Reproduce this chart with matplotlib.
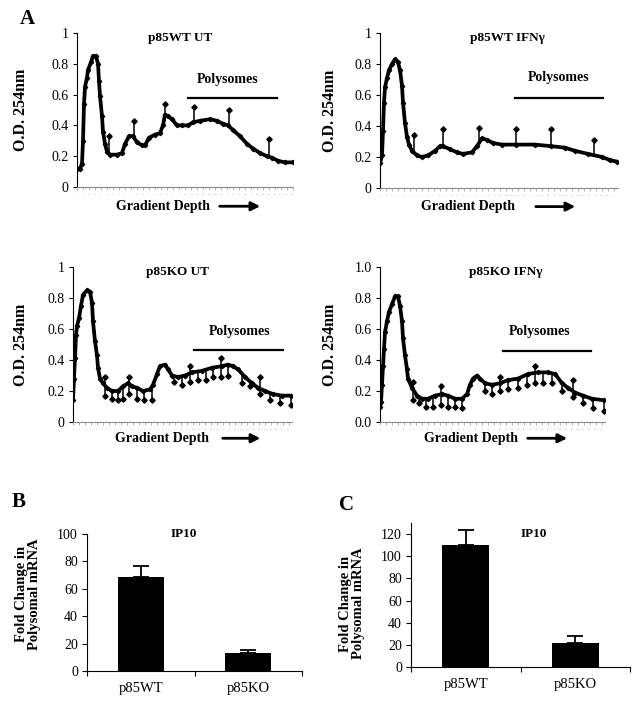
import numpy as np
import matplotlib.pyplot as plt

plt.rcParams["font.family"] = ["Liberation Serif", "DejaVu Serif"]

# ---- panel A: polysome profiles (x = reading along gradient, y = O.D. 254nm)
wt_ut_x = [0, 3, 5, 6, 7, 8, 10, 11, 14, 16, 19, 21, 22, 23, 25, 26, 28, 30, 33, 40,
           45, 48, 52, 56, 60, 65, 68, 72, 78, 83, 86, 88, 91, 95, 100, 105, 111, 116,
           123, 133, 140, 146, 151, 156, 163, 170, 176, 183, 190, 195, 201, 208, 216]
wt_ut_od = [0.12, 0.12, 0.15, 0.30, 0.54, 0.65, 0.71, 0.76, 0.81, 0.85, 0.85, 0.80, 0.69,
            0.59, 0.46, 0.36, 0.28, 0.23, 0.21, 0.21, 0.22, 0.28, 0.33, 0.33, 0.29, 0.27,
            0.27, 0.32, 0.34, 0.35, 0.40, 0.47, 0.46, 0.44, 0.40, 0.40, 0.40, 0.42, 0.43,
            0.44, 0.43, 0.41, 0.40, 0.37, 0.33, 0.28, 0.25, 0.22, 0.20, 0.19, 0.17, 0.16,
            0.16]
wt_ut_bar_x = [32, 57, 88, 117, 152, 192]
wt_ut_bar_mid = [0.23, 0.33, 0.47, 0.42, 0.40, 0.20]
wt_ut_bar_lo = [0.23, 0.33, 0.47, 0.42, 0.40, 0.20]
wt_ut_bar_hi = [0.33, 0.43, 0.54, 0.52, 0.50, 0.31]

wt_ifn_x = [0, 2, 3, 4, 5, 7, 9, 12, 15, 18, 20, 22, 23, 25, 27, 29, 32, 37, 42, 48, 55,
            60, 63, 70, 77, 83, 92, 97, 102, 107, 113, 122, 136, 155, 171, 185, 195, 208,
            222, 230, 237]
wt_ifn_od = [0.16, 0.21, 0.37, 0.55, 0.65, 0.71, 0.76, 0.80, 0.83, 0.81, 0.76, 0.66,
             0.55, 0.42, 0.33, 0.28, 0.24, 0.21, 0.20, 0.21, 0.24, 0.27, 0.27, 0.25, 0.23,
             0.22, 0.23, 0.27, 0.32, 0.31, 0.29, 0.28, 0.28, 0.28, 0.27, 0.26, 0.24, 0.22,
             0.20, 0.18, 0.17]
wt_ifn_bar_x = [34, 63, 99, 136, 171, 214]
wt_ifn_bar_mid = [0.24, 0.27, 0.29, 0.28, 0.27, 0.21]
wt_ifn_bar_lo = [0.24, 0.27, 0.29, 0.28, 0.27, 0.21]
wt_ifn_bar_hi = [0.34, 0.38, 0.39, 0.38, 0.38, 0.31]

ko_ut_x = [0, 1, 2, 3, 4, 6, 8, 10, 14, 17, 19, 20, 22, 24, 25, 27, 30, 34, 39, 45, 50,
           55, 59, 64, 70, 77, 80, 84, 87, 92, 95, 99, 105, 112, 119, 129, 139, 149, 155,
           160, 165, 172, 179, 185, 192, 200, 209, 218]
ko_ut_od = [0.14, 0.28, 0.41, 0.56, 0.62, 0.67, 0.75, 0.82, 0.85, 0.84, 0.77, 0.65, 0.52,
            0.43, 0.35, 0.28, 0.25, 0.22, 0.20, 0.20, 0.23, 0.25, 0.23, 0.22, 0.20, 0.21,
            0.24, 0.31, 0.36, 0.37, 0.34, 0.30, 0.29, 0.30, 0.32, 0.33, 0.35, 0.36, 0.37,
            0.36, 0.34, 0.29, 0.25, 0.22, 0.20, 0.18, 0.17, 0.17]
ko_ut_bar_x = [32, 39, 45, 50, 56, 64, 71, 79, 101, 109, 117, 125, 133, 140, 148, 155,
               169, 177, 187, 197, 207, 218]
ko_ut_bar_mid = [0.24, 0.21, 0.20, 0.22, 0.25, 0.22, 0.20, 0.21, 0.30, 0.29, 0.31, 0.32,
                 0.33, 0.34, 0.36, 0.37, 0.33, 0.27, 0.22, 0.19, 0.17, 0.17]
ko_ut_bar_lo = [0.17, 0.15, 0.14, 0.15, 0.18, 0.15, 0.14, 0.14, 0.26, 0.24, 0.26, 0.27,
                0.27, 0.29, 0.29, 0.30, 0.25, 0.23, 0.18, 0.14, 0.12, 0.11]
ko_ut_bar_hi = [0.29, 0.21, 0.20, 0.22, 0.29, 0.22, 0.20, 0.21, 0.30, 0.29, 0.36, 0.32,
                0.33, 0.34, 0.41, 0.37, 0.33, 0.27, 0.29, 0.19, 0.17, 0.17]

ko_ifn_x = [0, 1, 2, 3, 4, 5, 7, 9, 12, 15, 18, 20, 22, 23, 25, 27, 28, 32, 37, 42, 48,
            55, 62, 68, 75, 82, 87, 90, 93, 97, 100, 105, 112, 120, 128, 138, 148, 158,
            168, 175, 182, 188, 195, 203, 212, 224]
ko_ifn_od = [0.10, 0.13, 0.24, 0.36, 0.47, 0.58, 0.65, 0.71, 0.76, 0.81, 0.81, 0.75,
             0.65, 0.54, 0.43, 0.34, 0.28, 0.22, 0.17, 0.15, 0.15, 0.17, 0.18, 0.17, 0.15,
             0.15, 0.18, 0.24, 0.28, 0.30, 0.28, 0.25, 0.24, 0.25, 0.27, 0.28, 0.31, 0.32,
             0.32, 0.31, 0.25, 0.22, 0.19, 0.17, 0.15, 0.14]
ko_ifn_bar_x = [33, 39, 46, 53, 61, 68, 75, 82, 105, 112, 120, 128, 138, 147, 155, 163,
                172, 182, 193, 203, 213, 224]
ko_ifn_bar_mid = [0.20, 0.16, 0.15, 0.16, 0.17, 0.17, 0.15, 0.15, 0.25, 0.24, 0.25, 0.27,
                  0.28, 0.30, 0.31, 0.32, 0.32, 0.26, 0.20, 0.17, 0.15, 0.14]
ko_ifn_bar_lo = [0.14, 0.12, 0.10, 0.10, 0.11, 0.10, 0.10, 0.09, 0.20, 0.18, 0.20, 0.21,
                 0.22, 0.24, 0.25, 0.25, 0.25, 0.20, 0.16, 0.12, 0.09, 0.07]
ko_ifn_bar_hi = [0.26, 0.16, 0.15, 0.16, 0.23, 0.17, 0.15, 0.15, 0.25, 0.24, 0.29, 0.27,
                 0.28, 0.30, 0.36, 0.32, 0.32, 0.26, 0.27, 0.17, 0.15, 0.14]

# ---- panels B and C: IP10 in polysomal mRNA
genotypes = ["p85WT", "p85KO"]
ip10_b = [68.5, 13.2]
ip10_b_err = [8.3, 2.4]
ip10_c = [109.7, 22.1]
ip10_c_err = [13.6, 5.7]

W, H = 637, 704
fig = plt.figure(figsize=(W / 100, H / 100), dpi=100)


def add_ax(l, r, t, b):
    return fig.add_axes([l / W, 1 - b / H, (r - l) / W, (b - t) / H])


def profile(ax, x, y, bx, bmid, blo, bhi, xmax, title, lay, ticklabels):
    ax.plot(x, y, color="k", lw=2.7, marker="D", ms=2.2, zorder=3)
    ax.vlines(bx, blo, bhi, color="k", lw=1.1, zorder=2)
    for xx, m, lo, hi in zip(bx, bmid, blo, bhi):
        if hi > m:
            ax.plot(xx, hi, "kD", ms=2.7, zorder=4)
        if lo < m:
            ax.plot(xx, lo, "kD", ms=2.7, zorder=4)
    ax.set_xlim(0, xmax)
    ax.set_ylim(0, 1)
    for s in ("top", "right"):
        ax.spines[s].set_visible(False)
    ax.spines["left"].set_linewidth(0.8)
    ax.spines["bottom"].set_color("#888888")
    ax.spines["bottom"].set_linestyle((0, (2, 1)))
    ax.set_yticks(np.arange(0, 1.01, 0.2))
    ax.set_yticklabels(ticklabels, fontsize=10)
    ax.tick_params(axis="y", length=3, width=0.8, pad=3)
    ticks = np.arange(0, xmax + 1, 6)
    ax.set_xticks(ticks)
    ax.set_xticklabels([str(t) for t in ticks], fontsize=1.6, color="#999999")
    ax.tick_params(axis="x", length=2, width=0.5, color="#999999", pad=3)
    ax.set_ylabel("O.D. 254nm", fontsize=11.5, fontweight="bold")
    ax.yaxis.set_label_coords(lay["ylab"], 0.5)
    ax.text(lay["title"][0], lay["title"][1], title, ha="center", va="center",
            fontsize=9.5, fontweight="bold")
    ax.text(lay["poly"][0], lay["poly"][1], "Polysomes", ha="center", va="center",
            fontsize=10, fontweight="bold")
    ax.plot(lay["line"][:2], [lay["line"][2]] * 2, color="k", lw=1.6)
    gy = lay["gy"]
    ax.text(lay["gx"], gy, "Gradient Depth", transform=ax.transAxes, ha="center",
            va="center", fontsize=10, fontweight="bold")
    ax.annotate("", xy=(lay["arrow"][1], gy), xytext=(lay["arrow"][0], gy),
                xycoords="axes fraction", annotation_clip=False,
                arrowprops=dict(arrowstyle="-|>", color="k", lw=2, mutation_scale=13))


lbl = ["0", "0.2", "0.4", "0.6", "0.8", "1"]
lbl4 = ["0.0", "0.2", "0.4", "0.6", "0.8", "1.0"]

ax1 = add_ax(77, 293, 33, 187)
profile(ax1, wt_ut_x, wt_ut_od, wt_ut_bar_x, wt_ut_bar_mid, wt_ut_bar_lo, wt_ut_bar_hi,
        216, "p85WT UT",
        dict(ylab=-0.22, title=(103, 0.97), poly=(151, 0.695), line=(111, 200, 0.576),
             gx=0.396, gy=-0.125, arrow=(0.648, 0.861)), lbl)

ax2 = add_ax(380, 618, 33, 188)
profile(ax2, wt_ifn_x, wt_ifn_od, wt_ifn_bar_x, wt_ifn_bar_mid, wt_ifn_bar_lo,
        wt_ifn_bar_hi, 238, "p85WT IFN\u03b3",
        dict(ylab=-0.175, title=(127, 0.97), poly=(179, 0.71), line=(135, 223, 0.578),
             gx=0.37, gy=-0.12, arrow=(0.643, 0.832)), lbl)

ax3 = add_ax(73, 292, 267, 422)
profile(ax3, ko_ut_x, ko_ut_od, ko_ut_bar_x, ko_ut_bar_mid, ko_ut_bar_lo, ko_ut_bar_hi,
        219, "p85KO UT",
        dict(ylab=-0.2, title=(104, 0.97), poly=(167, 0.587), line=(121, 210, 0.465),
             gx=0.407, gy=-0.105, arrow=(0.671, 0.868)), lbl)

ax4 = add_ax(380, 605, 267, 422)
profile(ax4, ko_ifn_x, ko_ifn_od, ko_ifn_bar_x, ko_ifn_bar_mid, ko_ifn_bar_lo,
        ko_ifn_bar_hi, 225, "p85KO IFN\u03b3",
        dict(ylab=-0.185, title=(126, 0.97), poly=(160, 0.585), line=(123, 211, 0.456),
             gx=0.404, gy=-0.105, arrow=(0.644, 0.844)), lbl4)


def bars(ax, vals, errs, ymax, ylab_xy):
    pos = np.arange(len(genotypes))
    ax.bar(pos, vals, width=0.43, color="k")
    ax.errorbar(pos, vals, yerr=[[0] * len(errs), errs], fmt="none", ecolor="k",
                elinewidth=1.3, capsize=5.5, capthick=1.3)
    ax.set_xlim(-0.5, 1.5)
    ax.set_ylim(0, ymax)
    ax.set_yticks(np.arange(0, ymax + 1, 20))
    ax.tick_params(axis="y", length=3.5, width=0.8, labelsize=10, pad=3)
    ax.set_xticks(pos)
    ax.set_xticklabels(genotypes, fontsize=10.5)
    ax.tick_params(axis="x", length=0, pad=8)
    ax.set_xticks([-0.5, 0.5, 1.5], minor=True)
    ax.tick_params(axis="x", which="minor", length=3.5, width=0.8)
    for s in ("top", "right"):
        ax.spines[s].set_visible(False)
    for s in ("left", "bottom"):
        ax.spines[s].set_linewidth(0.8)
    ax.set_ylabel("Fold Change in\nPolysomal mRNA", fontsize=10.5, fontweight="bold",
                  linespacing=1.0)
    ax.yaxis.set_label_coords(*ylab_xy)
    ax.set_title("IP10", fontsize=9.5, fontweight="bold", pad=0, y=1.0)


axb = add_ax(87, 302, 534, 671)
bars(axb, ip10_b, ip10_b_err, 100, (-0.215, 0.56))
axb.title.set_position((0.45, 0.98))

axc = add_ax(411, 630, 523, 667)
bars(axc, ip10_c, ip10_c_err, 130, (-0.21, 0.44))
axc.title.set_position((0.56, 0.9))

fig.text(27 / W, 1 - 19 / H, "A", fontsize=15, fontweight="bold", ha="center", va="center")
fig.text(19 / W, 1 - 502 / H, "B", fontsize=15, fontweight="bold", ha="center", va="center")
fig.text(346 / W, 1 - 505 / H, "C", fontsize=15, fontweight="bold", ha="center", va="center")

fig.savefig("out.png", dpi=100)
